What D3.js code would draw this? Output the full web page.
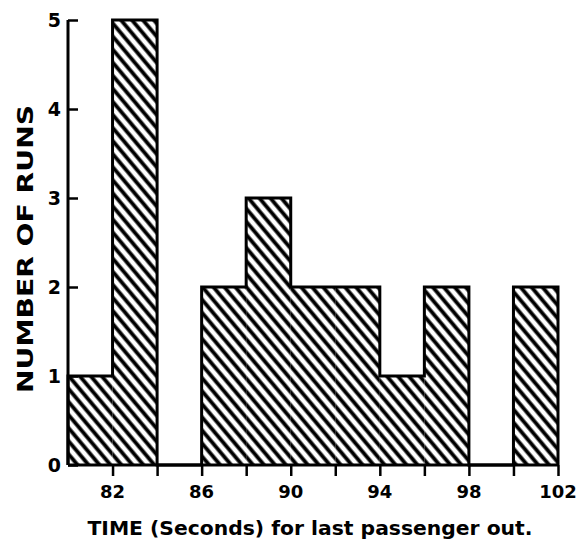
<!DOCTYPE html>
<html>
<head>
<meta charset="utf-8">
<script src="https://cdn.jsdelivr.net/npm/d3@7"></script>
<style>
  body { margin: 0; background: #fff; }
  text { font-family: "DejaVu Sans", "Liberation Sans", sans-serif; font-weight: bold; fill: #000; }
</style>
</head>
<body>
<svg></svg>
<script>
// histogram bins (start of each 2 second bin) and run counts
var binStarts = [80, 82, 84, 86, 88, 90, 92, 94, 96, 98, 100]
var runs = [1, 5, 0, 2, 3, 2, 2, 1, 2, 0, 2]
var binWidth = 2
var xTickMarks = [82, 84, 86, 88, 90, 92, 94, 96, 98, 100, 102]
var xTickLabels = [82, 86, 90, 94, 98, 102]
var yTickLabels = [0, 1, 2, 3, 4, 5]

var screen = {width: 578, height: 544}
var margins = {top: 20, right: 20, bottom: 79, left: 68}

var svg = d3.select("svg")
    .attr("width", screen.width)
    .attr("height", screen.height)

var xScale = d3.scaleLinear()
    .domain([80, 102])
    .range([margins.left, screen.width - margins.right])
var yScale = d3.scaleLinear()
    .domain([0, 5])
    .range([screen.height - margins.bottom, margins.top])

// hatch pattern, "\" diagonals
var defs = svg.append("defs")
var pat = defs.append("pattern")
    .attr("id", "hatch")
    .attr("patternUnits", "userSpaceOnUse")
    .attr("width", 8.4)
    .attr("height", 8.4)
    .attr("patternTransform", "rotate(50)")
pat.append("rect").attr("width", 8.4).attr("height", 8.4).attr("fill", "#fff")
pat.append("line")
    .attr("x1", 0).attr("x2", 8.4)
    .attr("y1", 4.2).attr("y2", 4.2)
    .attr("stroke", "#000")
    .attr("stroke-width", 3.8)

var graph = svg.append("g").attr("id", "graph")

graph.selectAll("rect.bar")
    .data(binStarts)
    .enter()
    .append("rect")
    .attr("class", "bar")
    .attr("x", function(d) { return xScale(d) })
    .attr("width", function(d) { return xScale(d + binWidth) - xScale(d) })
    .attr("y", function(d, i) { return yScale(runs[i]) })
    .attr("height", function(d, i) { return yScale(0) - yScale(runs[i]) })
    .attr("fill", "url(#hatch)")

// step outline of the histogram
var pts = [[80, 0]]
binStarts.forEach(function(d, i) { pts.push([d, runs[i]]) })
pts.push([102, runs[runs.length - 1]])
pts.push([102, 0])

var line = d3.line()
    .x(function(p) { return xScale(p[0]) })
    .y(function(p) { return yScale(p[1]) })
    .curve(d3.curveStepAfter)

graph.append("path")
    .attr("d", line(pts))
    .attr("fill", "none")
    .attr("stroke", "#000")
    .attr("stroke-width", 3)
    .attr("stroke-linejoin", "miter")

// x axis
var xAxis = d3.axisBottom(xScale)
    .tickValues(xTickMarks)
    .tickSize(11)
    .tickFormat("")
var gx = svg.append("g")
    .attr("transform", "translate(0," + yScale(0) + ")")
    .call(xAxis)
gx.select(".domain").attr("stroke", "#000").attr("stroke-width", 3)
    .attr("d", "M" + xScale(80) + ",0H" + xScale(102))
gx.selectAll(".tick line").attr("stroke", "#000").attr("stroke-width", 2.5)

svg.append("g").selectAll("text")
    .data(xTickLabels)
    .enter()
    .append("text")
    .attr("x", function(d) { return xScale(d) })
    .attr("y", 498)
    .attr("text-anchor", "middle")
    .attr("font-size", 18)
    .text(function(d) { return d })

// y axis (ticks point inward)
var yAxis = d3.axisRight(yScale)
    .tickValues(yTickLabels)
    .tickSize(10)
    .tickFormat("")
var gy = svg.append("g")
    .attr("transform", "translate(" + xScale(80) + ",0)")
    .call(yAxis)
gy.select(".domain").attr("stroke", "#000").attr("stroke-width", 3)
    .attr("d", "M0," + yScale(0) + "V" + yScale(5))
gy.selectAll(".tick line").attr("stroke", "#000").attr("stroke-width", 2.5)

svg.append("g").selectAll("text")
    .data(yTickLabels)
    .enter()
    .append("text")
    .attr("x", 61)
    .attr("y", function(d) { return yScale(d) + 7 })
    .attr("text-anchor", "end")
    .attr("font-size", 19)
    .text(function(d) { return d })

// titles
svg.append("text")
    .attr("x", 310)
    .attr("y", 535)
    .attr("text-anchor", "middle")
    .attr("font-size", 19)
    .attr("textLength", 445)
    .attr("lengthAdjust", "spacingAndGlyphs")
    .text("TIME (Seconds) for last passenger out.")

svg.append("text")
    .attr("transform", "translate(33,249) rotate(-90)")
    .attr("text-anchor", "middle")
    .attr("font-size", 22)
    .attr("textLength", 288)
    .attr("lengthAdjust", "spacingAndGlyphs")
    .text("NUMBER OF RUNS")
</script>
</body>
</html>
